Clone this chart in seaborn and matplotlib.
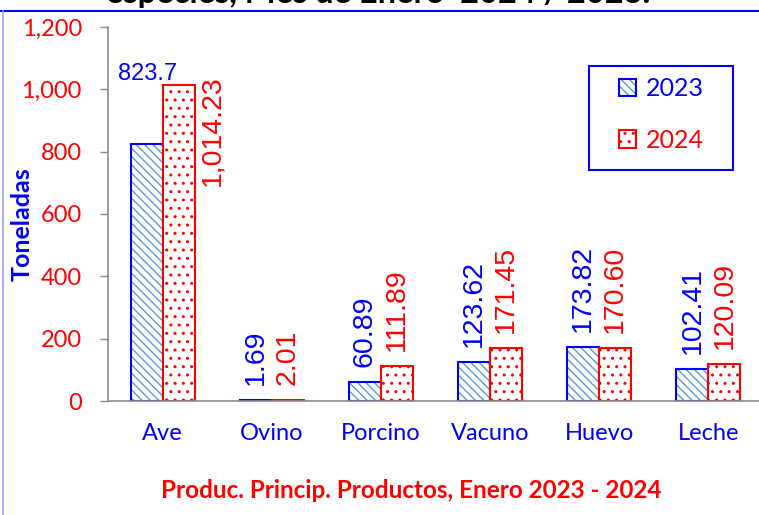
import matplotlib
matplotlib.use('Agg')
import matplotlib.pyplot as plt
import seaborn as sns
import pandas as pd
from matplotlib.colors import to_rgba
from matplotlib.patches import Rectangle, Patch
from matplotlib.lines import Line2D

# ---------------- data ----------------
categories = ['Ave', 'Ovino', 'Porcino', 'Vacuno', 'Huevo', 'Leche']
years = ['2023', '2024']
values_2023 = [823.70, 1.69, 60.89, 123.62, 173.82, 102.41]
values_2024 = [1014.23, 2.01, 111.89, 171.45, 170.60, 120.09]
labels_2023 = ['823.7', '1.69', '60.89', '123.62', '173.82', '102.41']
labels_2024 = ['1,014.23', '2.01', '111.89', '171.45', '170.60', '120.09']
ytick_values = [0, 200, 400, 600, 800, 1000, 1200]
ytick_labels = ['0', '200', '400', '600', '800', '1,000', '1,200']
title_text = 'especies, Mes de Enero  2024 / 2023.'
xlabel_text = 'Produc. Princip. Productos, Enero 2023 - 2024'
ylabel_text = 'Toneladas'

df = pd.DataFrame({
    'Producto': categories * 2,
    'Año': [years[0]] * len(categories) + [years[1]] * len(categories),
    'Toneladas': values_2023 + values_2024,
})

BLUE = '#0000FF'
RED = '#FF0000'
LIGHTBLUE = '#5B9BD5'
GREY = '#8C8C8C'

sns.set_theme(style='white')
plt.rcParams['font.family'] = ['Lato', 'DejaVu Sans']
plt.rcParams['hatch.linewidth'] = 1.0

W, H = 759, 515
fig = plt.figure(figsize=(W / 100, H / 100), dpi=100)
ax = fig.add_axes([108 / W, 114 / H, 655 / W, 374 / H])

sns.barplot(data=df, x='Producto', y='Toneladas', hue='Año',
            order=categories, hue_order=years,
            palette={years[0]: 'white', years[1]: 'white'},
            width=0.586, saturation=1, errorbar=None, legend=False, ax=ax)

styles = {
    years[0]: dict(edge=BLUE, hatch='\\' * 4, hcolor=LIGHTBLUE),
    years[1]: dict(edge=RED, hatch='..', hcolor=RED),
}


def style_patch(p, st):
    p.set_facecolor('white')
    p.set_edgecolor(st['edge'])
    p.set_linewidth(1.5)
    p.set_hatch(st['hatch'])
    p._hatch_color = to_rgba(st['hcolor'])


label_sets = {years[0]: labels_2023, years[1]: labels_2024}
label_colors = {years[0]: BLUE, years[1]: RED}
LABEL_FONT = ['Liberation Sans', 'DejaVu Sans']

for cont, yr in zip(ax.containers, years):
    st = styles[yr]
    for i, p in enumerate(cont):
        style_patch(p, st)
        x = p.get_x() + p.get_width() / 2
        y = p.get_height()
        txt = label_sets[yr][i]
        col = label_colors[yr]
        if i == 0 and yr == years[0]:
            ax.annotate(txt, (x, y), xytext=(1, 64), textcoords='offset pixels',
                        ha='center', va='baseline', fontsize=17, color=col,
                        family=LABEL_FONT)
        elif i == 0 and yr == years[1]:
            ax.annotate(txt, (x, y), xytext=(34, 10), textcoords='offset pixels',
                        ha='center', va='top', rotation=90, fontsize=20.5, color=col,
                        family=LABEL_FONT)
        else:
            ax.annotate(txt, (x, y), xytext=(0, 15), textcoords='offset pixels',
                        ha='center', va='bottom', rotation=90, fontsize=20.5, color=col,
                        family=LABEL_FONT)

ax.set_xlim(-0.5, len(categories) - 0.5)
ax.set_ylim(0, 1200)
ax.set_yticks(ytick_values)
ax.set_yticklabels(ytick_labels)
ax.set_xlabel('')
ax.set_ylabel('')
for t in ax.get_yticklabels():
    t.set_color(RED)
    t.set_fontsize(17)
for t in ax.get_xticklabels():
    t.set_color(BLUE)
    t.set_fontsize(17)
ax.tick_params(axis='y', which='major', left=True, direction='out', length=5.8,
               width=1, color=GREY, pad=13)
ax.tick_params(axis='x', which='major', bottom=False, length=0, pad=16)
for s in ['top', 'right']:
    ax.spines[s].set_visible(False)
for s in ['left', 'bottom']:
    ax.spines[s].set_color(GREY)
    ax.spines[s].set_linewidth(1.2)
ax.grid(False)
ax.set_facecolor('white')

# legend
handles = []
for yr in years:
    st = styles[yr]
    h = Patch(facecolor='white', edgecolor=st['edge'], hatch=st['hatch'], linewidth=1.5)
    h._hatch_color = to_rgba(st['hcolor'])
    handles.append(h)
leg = ax.legend(handles, years, loc='upper left', bbox_to_anchor=(619 / W, 1 - 77 / H),
                bbox_transform=fig.transFigure, frameon=False, fontsize=18,
                handlelength=0.68, handleheight=0.68, handletextpad=0.4,
                labelspacing=1.15, borderpad=0, borderaxespad=0)
for t, yr in zip(leg.get_texts(), years):
    t.set_color(label_colors[yr])
fig.add_artist(Rectangle((589 / W, 1 - 170 / H), (733 - 589) / W, (170 - 66) / H,
                         transform=fig.transFigure, fill=False, edgecolor=BLUE, lw=1.5))

# axis titles
fig.text(22 / W, 1 - 224 / H, ylabel_text, rotation=90, ha='center', va='center',
         fontsize=18, fontweight='bold', color=BLUE)
fig.text(411 / W, 1 - 490 / H, xlabel_text, ha='center', va='center',
         fontsize=17.5, fontweight='bold', color=RED)

# title (its upper part lies above the figure, as in the reference) and chart-area border
fig.text(378 / W, 1 - 3.5 / H, title_text, ha='center', va='baseline',
         fontsize=23.5, fontweight='bold', color='black')
fig.add_artist(Line2D([0, 1], [1 - 10.5 / H, 1 - 10.5 / H], transform=fig.transFigure,
                      color=BLUE, lw=1.5))
fig.add_artist(Line2D([3 / W, 3 / W], [0, 1 - 10.5 / H], transform=fig.transFigure,
                      color='#A0A0FF', lw=1.2))

fig.savefig('out.png', dpi=100, facecolor='white')
